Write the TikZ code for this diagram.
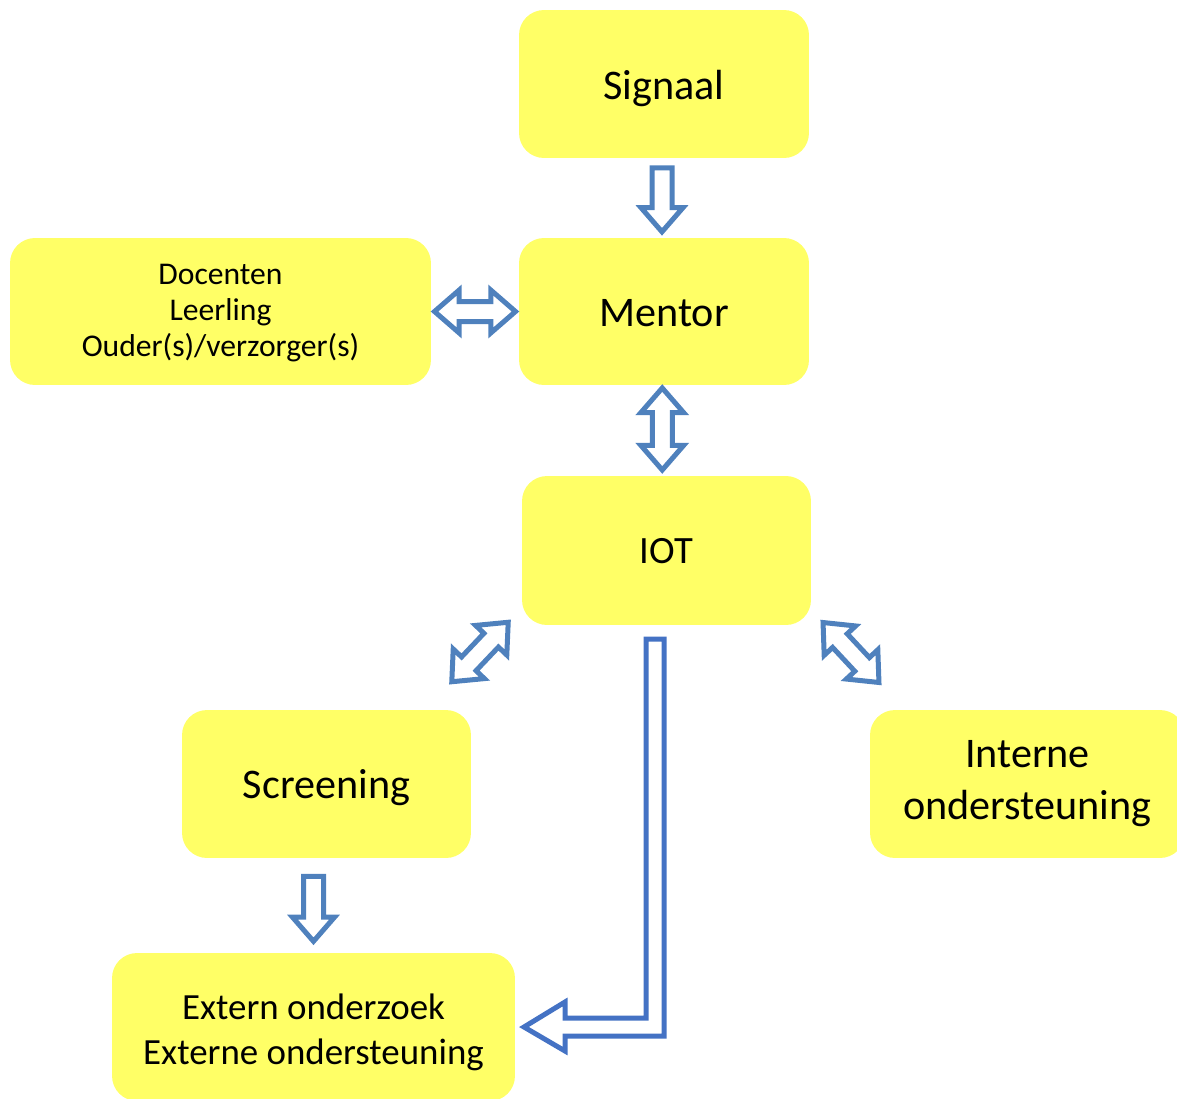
\documentclass[tikz,border=0pt]{standalone}
\usepackage{fontspec}
\setmainfont{Carlito}
\usetikzlibrary{calc,shapes.arrows}

\definecolor{boxyellow}{HTML}{FFFF66}
\definecolor{arrowblue}{HTML}{4F81BD}
\definecolor{bentblue}{HTML}{4472C4}

% lines of a box, moved down by #1
\newcommand{\boxlines}[2]{\raisebox{-#1}[\height][\depth]{\begin{tabular}{@{}c@{}}#2\end{tabular}}}

\tikzset{
	box/.style={fill=boxyellow, rounded corners=0.5cm, inner sep=0pt},
	sarrow/.style={single arrow, draw=arrowblue, fill=white, line width=0.1cm,
		inner xsep=0pt, inner ysep=0.15cm, minimum width=0pt,
		single arrow head extend=0.22cm, single arrow tip angle=82},
	darrow/.style={double arrow, draw=arrowblue, fill=white, line width=0.1cm,
		inner xsep=0pt, inner ysep=0.15cm, minimum width=0pt,
		double arrow head extend=0.23cm, double arrow tip angle=82},
}

\begin{document}
\begin{tikzpicture}[x=0.02cm, y=-0.02cm]
	
	% Frame
	\path[use as bounding box, clip] (0,0) rectangle (1177,1099);
	
	%% BOXES
	\node[box, minimum width=5.8cm, minimum height=2.96cm, font=\fontsize{24}{29}\selectfont] (sig) at (664,84) {\boxlines{3pt}{Signaal}};
	\node[box, minimum width=5.8cm, minimum height=2.94cm, font=\fontsize{24}{29}\selectfont] (men) at (664,311.5) {\boxlines{2.5pt}{Mentor}};
	\node[box, minimum width=8.42cm, minimum height=2.94cm, font=\fontsize{18}{20.5}\selectfont] (doc) at (220.5,311.5) {\boxlines{0.8pt}{Docenten\\Leerling\\Ouder(s)/verzorger(s)}};
	\node[box, minimum width=5.78cm, minimum height=2.98cm, font=\fontsize{22}{27}\selectfont] (iot) at (666.5,550.5) {\boxlines{2pt}{IOT}};
	\node[box, minimum width=5.78cm, minimum height=2.96cm, font=\fontsize{24}{29}\selectfont] (scr) at (326.5,784) {\boxlines{2.7pt}{Screening}};
	\node[box, minimum width=6.3cm, minimum height=2.96cm, font=\fontsize{24}{29.4}\selectfont] (int) at (1027.5,784) {\boxlines{-0.6pt}{Interne\\ondersteuning}};
	\node[box, minimum width=8.06cm, minimum height=2.96cm, font=\fontsize{21}{25.6}\selectfont] (ext) at (313.5,1027) {\boxlines{3.5pt}{Extern onderzoek\\Externe ondersteuning}};
	
	%% ARROWS
	% Single
	\node[sarrow, anchor=tail, rotate=-90, minimum height=1.28cm] (a1) at ($(sig.south)+(-2,7)$) {};
	\node[sarrow, anchor=tail, rotate=-90, minimum height=1.3cm] (a2) at ($(ext.north |- scr.south)+(0,15.5)$) {};
	
	% Double
	\node[darrow, minimum height=1.62cm] (d1) at ($(doc.east)!0.5!(men.west)$) {};
	\node[darrow, xshift=-0.06cm, yshift=0.03cm, rotate=90, minimum height=1.64cm] (d2) at ($(men.south)!0.5!(iot.north)$) {};
	\node[darrow, xshift=-0.33cm, yshift=0.31cm, rotate=46.5, minimum height=1.64cm] (d3) at ($(iot.south west)!0.5!(scr.north east)$) {};
	\node[darrow, xshift=0.21cm, yshift=0.3cm, rotate=-47, minimum height=1.64cm] (d4) at ($(iot.south east)!0.5!(int.north west)$) {};
	
	% Bent arrow IOT -> Extern
	\draw[bentblue, line width=0.1cm, fill=white] (646,639) -- (664,639) -- (664,1036) -- (565,1036) -- (565,1051) -- (524,1027) -- (565,1002) -- (565,1018) -- (646,1018) -- cycle;
	
\end{tikzpicture}
\end{document}
